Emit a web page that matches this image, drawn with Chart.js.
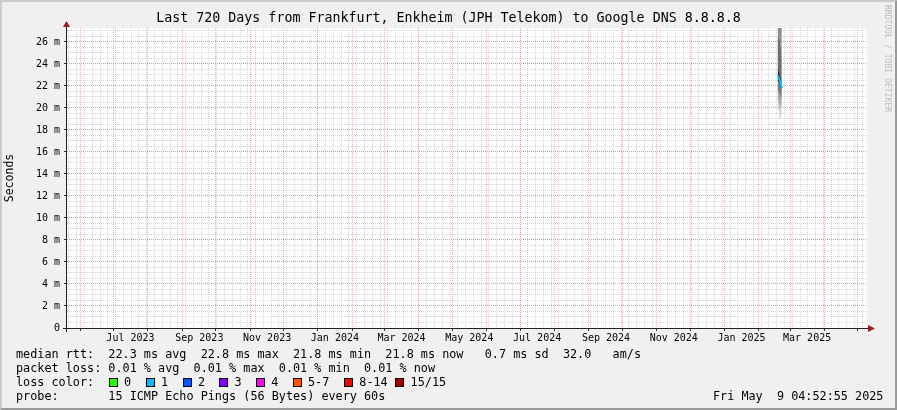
<!DOCTYPE html>
<html>
<head>
<meta charset="utf-8">
<title>Last 720 Days - Google DNS 8.8.8.8</title>
<script src="https://cdn.jsdelivr.net/npm/chart.js@4.4.0/dist/chart.umd.min.js"></script>
<style>
  body { margin: 0; background: #f0f0f0; }
  #wrap { position: relative; width: 897px; height: 410px; overflow: hidden; background: #f0f0f0; }
  #rtt { position: absolute; left: 0; top: 0; }
  .t { position: absolute; font-family: 'DejaVu Sans Mono', monospace; white-space: pre; color: #000; }
  .legend { font-size: 11.8px; line-height: 14px; }
  .box { position: absolute; width: 7px; height: 7px; border: 1px solid #000; }
  #frame { position: absolute; left: 0; top: 0; width: 893px; height: 406px;
           border-top: 2px solid #cbcbcb; border-left: 2px solid #cbcbcb;
           border-bottom: 2px solid #999; border-right: 2px solid #999; pointer-events: none; }
</style>
</head>
<body>
<div id="wrap">
  <canvas id="rtt" width="897" height="410"></canvas>
  <div class="t" style="left:0;width:897px;top:10px;text-align:center;font-size:13.3px;line-height:16px">Last 720 Days from Frankfurt, Enkheim (JPH Telekom) to Google DNS 8.8.8.8</div>
  <div class="t" style="left:883px;top:5px;font-size:8.1px;line-height:9px;color:#bcbcbc;writing-mode:vertical-rl">RRDTOOL / TOBI OETIKER</div>
  <div class="t legend" style="left:16px;top:347px">median rtt:  22.3 ms avg  22.8 ms max  21.8 ms min  21.8 ms now   0.7 ms sd  32.0   am/s</div>
  <div class="t legend" style="left:16px;top:361px">packet loss: 0.01 % avg  0.01 % max  0.01 % min  0.01 % now</div>
  <div class="t legend" style="left:16px;top:375px">loss color:</div>
  <div id="lossLegend"></div>
  <div class="t legend" style="left:16px;top:389px">probe:       15 ICMP Echo Pings (56 Bytes) every 60s</div>
  <div class="t legend" style="left:713px;top:389px">Fri May  9 04:52:55 2025</div>
  <div id="frame"></div>
</div>
<script>
// time window: last 720 days ending at the graph timestamp
const endTime = Date.UTC(2025, 4, 9, 4, 52, 55);
const startTime = endTime - 720 * 86400000;

// x labels (centered half a month after the month start, like rrdtool)
const xTickLabels = ['Jul 2023', 'Sep 2023', 'Nov 2023', 'Jan 2024', 'Mar 2024', 'May 2024',
                     'Jul 2024', 'Sep 2024', 'Nov 2024', 'Jan 2025', 'Mar 2025'];
const monthNames = ['Jan','Feb','Mar','Apr','May','Jun','Jul','Aug','Sep','Oct','Nov','Dec'];

// the only days with data
const sampleDays = ['2025-02-17T18:00', '2025-02-18T18:00', '2025-02-19T18:00', '2025-02-20T18:00', '2025-02-21T12:00'];
const medianRtt = [22.9, 22.8, 22.5, 22.1, 21.8];
// smoke: sorted ping rtt percentiles (ms)
const pingMin = [20.0, 19.8, 18.9, 19.2, 19.9];
const ping10 = [20.8, 20.6, 19.9, 20.1, 20.6];
const ping25 = [21.6, 21.5, 21.0, 21.0, 21.1];
const ping40 = [22.4, 22.3, 22.0, 21.7, 21.5];
const ping60 = [23.6, 23.5, 23.2, 22.8, 22.3];
const ping75 = [26.0, 26.8, 26.2, 25.4, 24.6];
const ping90 = [29.0, 30.5, 31.0, 29.0, 28.0];
const pingMax = [32.0, 34.0, 35.0, 33.0, 31.0];

const lossLabels = ['0', '1', '2', '3', '4', '5-7', '8-14', '15/15'];
const lossColors = ['#26ff00', '#00b8ff', '#0059ff', '#7e00ff', '#ff00ff', '#ff5500', '#ff0000', '#a10000'];
const lossBoxX = [108.7, 145.7, 182.7, 219.3, 256, 292.7, 344, 395.3];

// loss colour legend
const lossDiv = document.getElementById('lossLegend');
lossLabels.forEach(function(lbl, i) {
    const b = document.createElement('div');
    b.className = 'box';
    b.style.left = Math.round(lossBoxX[i]) + 'px';
    b.style.top = '378px';
    b.style.background = lossColors[i];
    lossDiv.appendChild(b);
    const t = document.createElement('div');
    t.className = 't legend';
    t.style.left = (lossBoxX[i] + 15.3) + 'px';
    t.style.top = '375px';
    t.textContent = lbl;
    lossDiv.appendChild(t);
});

const xs = sampleDays.map(d => Date.parse(d + ':00Z'));
const pts = arr => arr.map((v, i) => ({x: xs[i], y: v}));

const monthStarts = [];
for (let y = 2023, m = 0; y < 2026; ) {
    const t = Date.UTC(y, m, 1);
    if (t > startTime && t < endTime) monthStarts.push(t);
    m++; if (m > 11) { m = 0; y++; }
}
const weekStarts = [];
for (let t = Date.UTC(2023, 4, 22); t < endTime; t += 7 * 86400000) weekStarts.push(t);
const labelFor = {};
xTickLabels.forEach(function(l) {
    const p = l.split(' ');
    labelFor[Date.UTC(+p[1], monthNames.indexOf(p[0]), 1)] = l;
});

const GRID = 'rgba(150,150,150,0.38)';
const MGRID = 'rgba(235,90,90,0.5)';
const monoTick = {family: 'DejaVu Sans Mono', size: 10};

const smokeShades = ['#d4d4d4', '#a8a8a8', '#777777', '#3c3c3c', '#6e6e6e', '#8c8c8c', '#bdbdbd'];
const bands = [pingMin, ping10, ping25, ping40, ping60, ping75, ping90, pingMax];
const datasets = bands.map(function(b, i) {
    return {
        data: pts(b),
        borderWidth: 0,
        pointRadius: 0,
        fill: i === 0 ? false : '-1',
        backgroundColor: i === 0 ? 'transparent' : smokeShades[i - 1],
        order: 2
    };
});
datasets.push({
    data: pts(medianRtt),
    borderColor: lossColors[1],
    borderWidth: 2,
    pointRadius: 0,
    fill: false,
    order: 0
});

const framePlugin = {
    id: 'rrdFrame',
    beforeDraw(chart) {
        const a = chart.chartArea, ctx = chart.ctx;
        ctx.save();
        ctx.fillStyle = '#ffffff';
        ctx.fillRect(a.left, a.top, a.right - a.left, a.bottom - a.top);
        ctx.restore();
    },
    afterDatasetsDraw(chart) {
        const a = chart.chartArea, ctx = chart.ctx;
        const x0 = Math.round(a.left) - 0.5, y0 = Math.round(a.bottom) + 0.5;
        ctx.save();
        ctx.strokeStyle = '#202020';
        ctx.lineWidth = 1;
        ctx.beginPath();
        ctx.moveTo(a.left - 4, y0); ctx.lineTo(a.right + 1, y0);
        ctx.moveTo(x0, a.bottom + 4); ctx.lineTo(x0, a.top - 2);
        ctx.stroke();
        ctx.fillStyle = '#9a1e1e';
        ctx.beginPath();
        ctx.moveTo(a.right + 1, y0 - 3.5); ctx.lineTo(a.right + 8, y0); ctx.lineTo(a.right + 1, y0 + 3.5);
        ctx.closePath(); ctx.fill();
        ctx.beginPath();
        ctx.moveTo(x0 - 3.5, a.top - 1); ctx.lineTo(x0, a.top - 7); ctx.lineTo(x0 + 3.5, a.top - 1);
        ctx.closePath(); ctx.fill();
        ctx.restore();
    }
};

new Chart(document.getElementById('rtt'), {
    type: 'line',
    data: {datasets: datasets},
    plugins: [framePlugin],
    options: {
        responsive: false,
        animation: false,
        layout: {padding: {left: 0, top: 28, right: 30, bottom: 0}},
        plugins: {legend: {display: false}, tooltip: {enabled: false}},
        elements: {line: {tension: 0}},
        scales: {
            xMinor: {
                type: 'linear', position: 'bottom', min: startTime, max: endTime,
                afterBuildTicks: s => { s.ticks = weekStarts.map(v => ({value: v})); },
                afterFit: s => { s.height = 0; },
                ticks: {display: false},
                grid: {color: GRID, drawTicks: false},
                border: {display: false, dash: [1, 1]}
            },
            yMinor: {
                type: 'linear', position: 'left', min: 0, max: 27.27,
                ticks: {display: false, stepSize: 0.5, includeBounds: false},
                afterFit: s => { s.width = 0; },
                grid: {color: GRID, drawTicks: false},
                border: {display: false, dash: [1, 1]}
            },
            x: {
                type: 'linear', position: 'bottom', min: startTime, max: endTime,
                afterBuildTicks: s => { s.ticks = monthStarts.map(v => ({value: v})); },
                afterFit: s => { s.height = 82; },
                ticks: {
                    autoSkip: false, maxRotation: 0, padding: 1, labelOffset: 17,
                    font: monoTick, color: '#000',
                    callback: v => labelFor[v] || ''
                },
                grid: {color: MGRID, drawTicks: true, tickLength: 3, tickColor: '#333', tickBorderDash: []},
                border: {display: false, dash: [1, 1]}
            },
            y: {
                type: 'linear', position: 'left', min: 0, max: 27.27,
                afterFit: s => { s.width = 67; },
                ticks: {
                    stepSize: 2, includeBounds: false, padding: 4,
                    font: monoTick, color: '#000',
                    callback: v => v === 0 ? '0' : v + ' m'
                },
                title: {display: true, text: 'Seconds', font: {family: 'DejaVu Sans Mono', size: 11.5}, color: '#000', padding: {top: 3, bottom: 0}},
                grid: {color: MGRID, drawTicks: true, tickLength: 3, tickColor: '#333', tickBorderDash: []},
                border: {display: false, dash: [1, 1]}
            }
        }
    }
});
</script>
</body>
</html>
